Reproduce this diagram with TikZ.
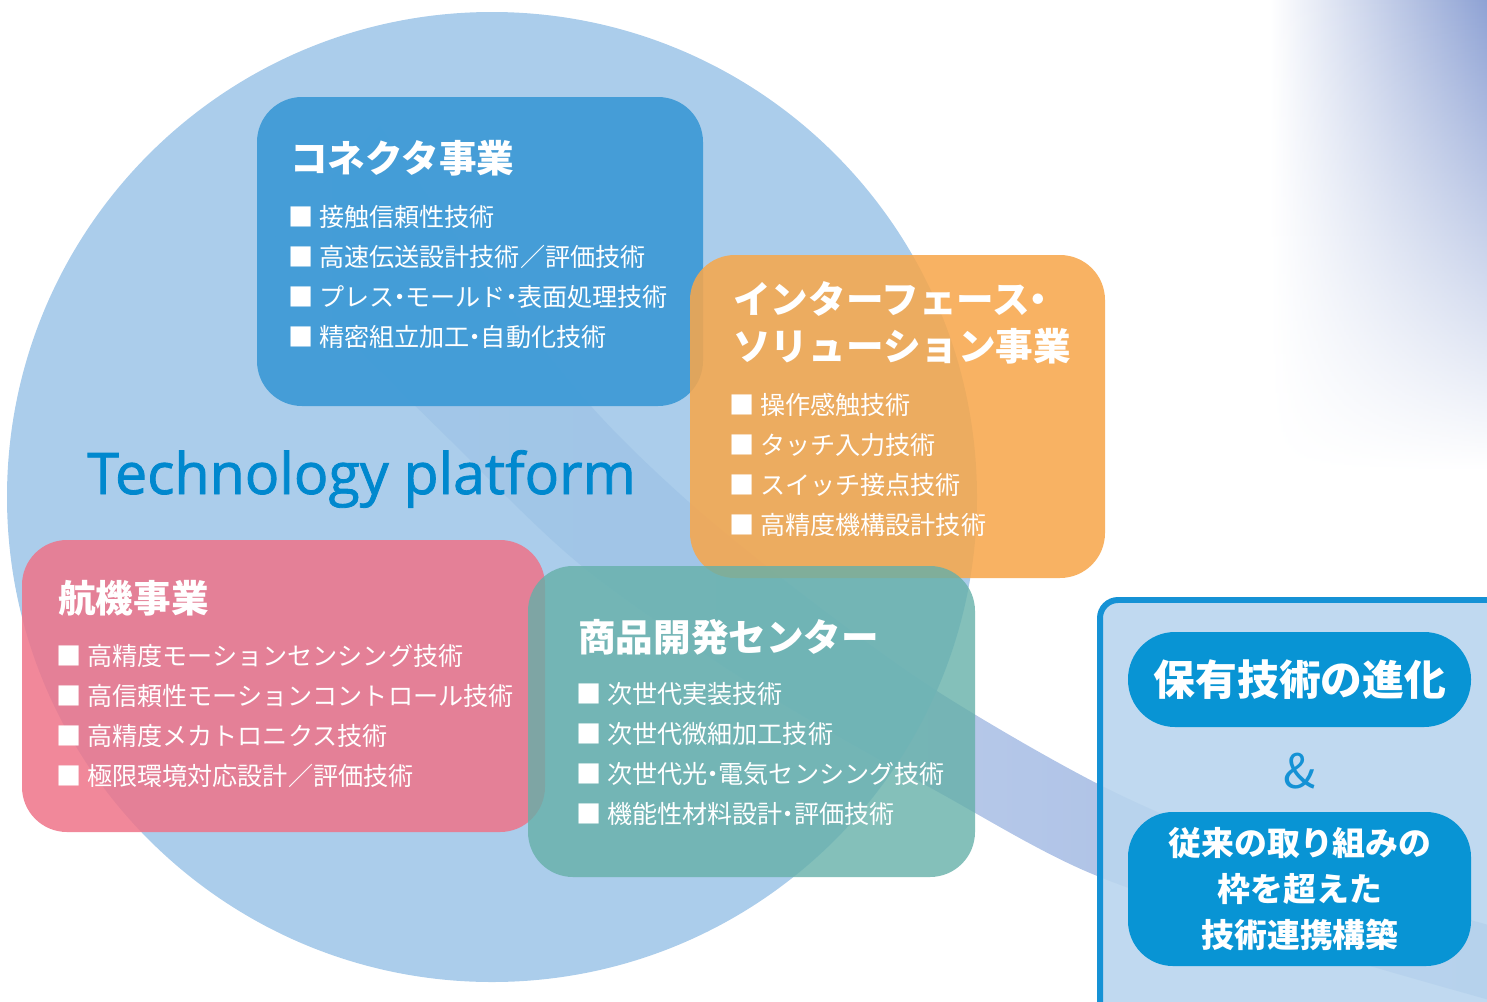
\documentclass[tikz,border=0pt]{standalone}
\usepackage{fontspec}
\newfontfamily\jp{Noto Sans CJK JP}
\newfontfamily\en[FakeBold=1.4]{Open Sans}
\usepackage{tikz}
\usetikzlibrary{calc}
\usetikzlibrary{fadings}

\definecolor{circblue}{HTML}{9CC4E7}
\definecolor{bandblue}{HTML}{A3BAE3}
\definecolor{conblue}{HTML}{3D9AD6}
\definecolor{iforange}{HTML}{F7A74C}
\definecolor{kokipink}{HTML}{EE7388}
\definecolor{devteal}{HTML}{65B0A9}
\definecolor{tpblue}{HTML}{0088CE}
\definecolor{evoblue}{HTML}{0894D4}
\definecolor{frameblue}{HTML}{1592D5}
\definecolor{framefill}{HTML}{B9D5EE}
\definecolor{haze}{HTML}{8EA2D4}

\tikzfading[name=hazefade, top color=transparent!0, bottom color=transparent!100]

% narrow middle dot
\newcommand{\mdot}{\hspace{-0.28em}・\hspace{-0.28em}}

\begin{document}
\begin{tikzpicture}[x=0.02cm,y=-0.02cm]
			\tikzstyle{every node}=[inner sep=0pt, text=white]
			\tikzstyle{head}=[anchor=west, align=left, font=\jp\bfseries\fontsize{21.4}{26.6}\selectfont]
			\tikzstyle{items}=[anchor=west, align=left, font=\jp\fontsize{14.3}{22.7}\selectfont]
			\tikzstyle{card}=[rounded corners=0.9cm]
			
			\useasboundingbox (0,0) rectangle (1487,1001);
			\clip (0,0) rectangle (1487,1001);
			
			% haze in the corner
			\shade [left color=white, right color=haze, path fading=hazefade] (1270,0) rectangle (1487,470);
			
			% swoosh under the circle
			\shade [left color=bandblue!55!white, right color=bandblue]
			plot [smooth] coordinates {(380,125) (470,255) (590,405) (690,503) (810,600) (940,693) (1110,790) (1300,870) (1500,928)}
			-- plot [smooth] coordinates {(1500,1003) (1300,945) (1090,873) (940,793) (760,690) (583,567) (450,440) (330,318) (275,235)}
			-- cycle;
			
			\fill [circblue, fill opacity=0.85] (492,497) circle (485);
			
			\fill [card, conblue, fill opacity=0.92] (257,97) rectangle (703,406);
			\fill [card, iforange, fill opacity=0.87] (690,255) rectangle (1105,578);
			\fill [card, kokipink, fill opacity=0.85] (22,540) rectangle (545,832);
			\fill [card, devteal, fill opacity=0.8] (528,566) rectangle (975,877);
			
			\node [anchor=base west, text=tpblue, font=\en\fontsize{32.6}{38}\selectfont] (tp) at (87,494) {Technology platform};
			
			\node [head] (conhead) at (290,158) {コネクタ事業};
			\node [items] (conlist) at (288,277) {■ 接触信頼性技術\\■ 高速伝送設計技術／評価技術\\■ プレス\mdot モールド\mdot 表面処理技術\\■ 精密組立加工\mdot 自動化技術};
			
			\node [head] (ifhead) at (733,323) {インターフェース\mdot\\ソリューション事業};
			\node [items] (iflist) at (729,465) {■ 操作感触技術\\■ タッチ入力技術\\■ スイッチ接点技術\\■ 高精度機構設計技術};
			
			\node [head] (kokihead) at (58,598) {航機事業};
			\node [items] (kokilist) at (56,716) {■ 高精度モーションセンシング技術\\■ 高信頼性モーションコントロール技術\\■ 高精度メカトロニクス技術\\■ 極限環境対応設計／評価技術};
			
			\node [head] (devhead) at (578,637) {商品開発センター};
			\node [items] (devlist) at (576,754) {■ 次世代実装技術\\■ 次世代微細加工技術\\■ 次世代光\mdot 電気センシング技術\\■ 機能性材料設計\mdot 評価技術};
			
			% right panel
			\draw [line width=3.4pt, draw=frameblue, fill=framefill, fill opacity=0.9, rounded corners=0.36cm] (1100,600) rectangle (1520,1030);
			\fill [evoblue, rounded corners=0.94cm] (1128,632) rectangle (1471,727);
			\fill [evoblue, rounded corners=0.9cm] (1128,812) rectangle (1471,966);
			
			\node [font=\jp\bfseries\fontsize{23.8}{28}\selectfont] (evo) at (1300,680) {保有技術の進化};
			\node [text=frameblue, font=\jp\fontsize{27}{30}\selectfont] (amp) at (1300,771) {\&};
			\node [align=center, font=\jp\bfseries\fontsize{18.7}{26}\selectfont] (beyond) at (1300,889) {従来の取り組みの\\枠を超えた\\技術連携構築};
			
			\end{tikzpicture}
\end{document}
